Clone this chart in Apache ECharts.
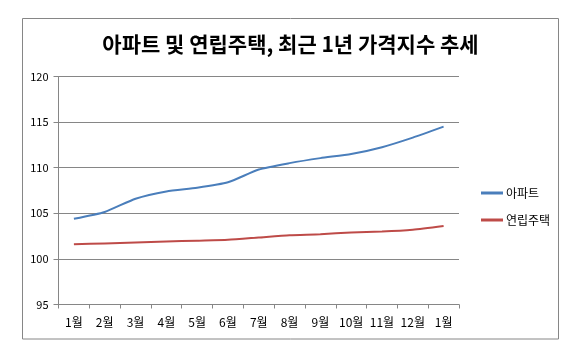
<!DOCTYPE html>
<html>
<head>
<meta charset="utf-8">
<script src="https://cdn.jsdelivr.net/npm/echarts@6/dist/echarts.min.js"></script>
<style>html,body{margin:0;padding:0;background:#fff}#c{width:581px;height:359px}</style>
</head>
<body>
<div id="c"></div>
<script>
const categories = ['1월','2월','3월','4월','5월','6월','7월','8월','9월','10월','11월','12월','1월'];
const apartment = [104.4, 105.15, 106.6, 107.4, 107.8, 108.4, 109.8, 110.5, 111.05, 111.5, 112.25, 113.3, 114.5];
const rowhouse = [101.6, 101.7, 101.8, 101.9, 102.0, 102.1, 102.35, 102.6, 102.7, 102.9, 103.0, 103.2, 103.6];
const yTicks = {min: 95, max: 120, interval: 5};
const titleText = '아파트 및 연립주택, 최근 1년 가격지수 추세';
const seriesNames = ['아파트', '연립주택'];

const font = '"Noto Sans CJK KR", "Noto Sans", sans-serif';
const chart = echarts.init(document.getElementById('c'), null, {renderer: 'canvas'});
chart.setOption({
  backgroundColor: '#fff',
  animation: false,
  textStyle: {fontFamily: font},
  title: {
    text: titleText,
    left: 'center',
    top: 29,
    textStyle: {fontFamily: font, fontSize: 21, fontWeight: 'bold', color: '#000'}
  },
  graphic: [{
    type: 'rect',
    shape: {x: 22.5, y: 18.5, width: 536, height: 320.5},
    style: {fill: 'none', stroke: '#868686', lineWidth: 1},
    silent: true,
    z: -1
  }],
  legend: {
    orient: 'vertical',
    left: 476,
    top: 182,
    itemWidth: 22,
    itemHeight: 3,
    itemGap: 15,
    icon: 'rect',
    textStyle: {fontFamily: font, fontSize: 12, color: '#000', padding: [0, 0, 0, -2]},
    data: seriesNames
  },
  grid: {left: 58.5, right: 122, top: 76.5, bottom: 54.5, containLabel: false},
  xAxis: {
    type: 'category',
    data: categories,
    boundaryGap: true,
    axisLine: {lineStyle: {color: '#868686', width: 1}},
    axisTick: {show: true, interval: 0, length: 4, lineStyle: {color: '#868686'}},
    axisLabel: {interval: 0, fontFamily: font, fontSize: 12, color: '#000', margin: 12}
  },
  yAxis: {
    type: 'value',
    min: yTicks.min,
    max: yTicks.max,
    interval: yTicks.interval,
    axisLine: {show: true, lineStyle: {color: '#868686', width: 1}},
    axisTick: {show: true, length: 5, lineStyle: {color: '#868686'}},
    axisLabel: {fontFamily: font, fontSize: 11, color: '#000', margin: 10},
    splitLine: {show: true, lineStyle: {color: '#868686', width: 1}}
  },
  series: [
    {name: seriesNames[0], type: 'line', data: apartment, symbol: 'none', smooth: 0.2,
     itemStyle: {color: '#4a7ebb'}, lineStyle: {color: '#4a7ebb', width: 2}},
    {name: seriesNames[1], type: 'line', data: rowhouse, symbol: 'none', smooth: 0.2,
     itemStyle: {color: '#be4b48'}, lineStyle: {color: '#be4b48', width: 2}}
  ]
});
</script>
</body>
</html>
